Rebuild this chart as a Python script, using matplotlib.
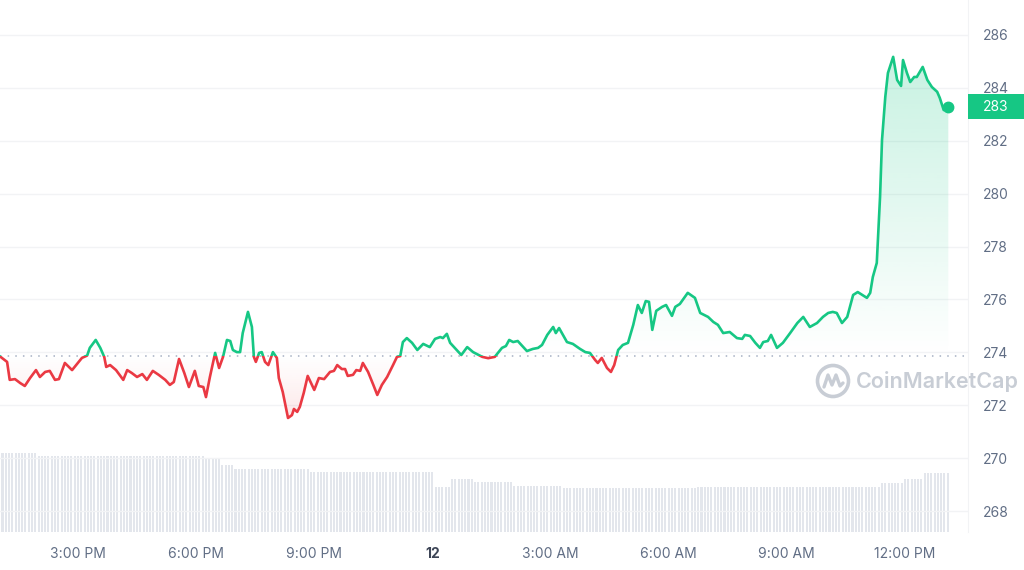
import numpy as np
import matplotlib
matplotlib.use("Agg")
import matplotlib.pyplot as plt
import matplotlib.colors as mcolors
from matplotlib.path import Path
from matplotlib.patches import Rectangle, Ellipse
from matplotlib.lines import Line2D
import matplotlib.transforms as mtransforms

plt.rcParams['font.family'] = ['Inter', 'DejaVu Sans']

# price samples: minutes after 13:00 on the 11th, price in USD
minutes = [
    1, 12, 16, 24, 32, 39, 47, 56, 62, 70, 77, 85, 91, 100, 111, 126, 134, 138, 147, 154,
    160, 163, 169, 178, 189, 195, 202, 210, 218, 225, 234, 243, 253, 260, 266, 274, 282, 289, 298, 304,
    311, 315, 321, 329, 335, 341, 347, 352, 356, 362, 367, 371, 379, 385, 388, 391, 396, 400, 405, 410,
    417, 423, 426, 432, 440, 446, 449, 454, 458, 464, 470, 480, 487, 495, 499, 504, 510, 515, 522, 527,
    531, 539, 544, 550, 554, 562, 570, 576, 583, 591, 600, 606, 611, 615, 621, 629, 637, 646, 656, 664,
    672, 676, 682, 687, 697, 704, 713, 722, 736, 745, 755, 766, 772, 777, 783, 790, 804, 813, 821, 827,
    835, 844, 848, 853, 865, 874, 885, 893, 900, 908, 912, 918, 926, 932, 937, 943, 950, 958, 966, 973,
    979, 985, 990, 995, 1001, 1010, 1016, 1025, 1030, 1037, 1049, 1060, 1068, 1080, 1088, 1095, 1103, 1113, 1124, 1132,
    1136, 1144, 1152, 1159, 1164, 1171, 1176, 1185, 1194, 1205, 1216, 1225, 1235, 1246, 1255, 1263, 1270, 1276, 1284, 1292,
    1301, 1308, 1322, 1327, 1331, 1337, 1342, 1345, 1350, 1354, 1362, 1368, 1374, 1377, 1383, 1388, 1394, 1398, 1407, 1414,
    1421, 1429, 1433, 1439, 1446,
]
prices = [
    273.85, 273.64, 272.96, 272.99, 272.84, 272.73, 273.03, 273.33, 273.07, 273.26, 273.30, 272.96, 272.99, 273.60, 273.33, 273.79, 273.88, 274.17, 274.47, 274.17,
    273.83, 273.45, 273.52, 273.33, 272.96, 273.33, 273.22, 273.07, 273.18, 272.96, 273.30, 273.15, 272.96, 272.77, 272.88, 273.75, 273.22, 272.69, 273.30, 272.73,
    272.69, 272.31, 273.07, 273.98, 273.41, 273.83, 274.47, 274.43, 274.09, 274.01, 274.01, 274.73, 275.53, 274.96, 273.83, 273.64, 273.98, 274.01, 273.64, 273.52,
    274.01, 273.79, 273.03, 272.50, 271.52, 271.63, 271.86, 271.75, 271.94, 272.47, 273.11, 272.58, 273.03, 272.99, 273.11, 273.26, 273.30, 273.52, 273.37, 273.37,
    273.11, 273.15, 273.33, 273.30, 273.60, 273.26, 272.77, 272.39, 272.77, 273.07, 273.52, 273.83, 273.86, 274.39, 274.54, 274.36, 274.09, 274.32, 274.20, 274.51,
    274.58, 274.54, 274.70, 274.36, 274.09, 273.90, 274.20, 274.01, 273.83, 273.78, 273.83, 274.17, 274.24, 274.47, 274.39, 274.43, 274.05, 274.13, 274.17, 274.28,
    274.66, 274.96, 274.73, 274.92, 274.39, 274.32, 274.13, 274.01, 273.98, 273.71, 273.60, 273.79, 273.41, 273.26, 273.52, 274.09, 274.28, 274.36, 275.04, 275.79,
    275.49, 275.94, 275.91, 274.85, 275.57, 275.72, 275.79, 275.38, 275.72, 275.83, 276.25, 276.06, 275.49, 275.34, 275.15, 275.04, 274.73, 274.77, 274.54, 274.51,
    274.66, 274.62, 274.36, 274.17, 274.39, 274.43, 274.66, 274.17, 274.36, 274.73, 275.11, 275.34, 274.96, 275.11, 275.34, 275.49, 275.53, 275.49, 275.11, 275.34,
    276.17, 276.28, 276.06, 276.25, 276.85, 277.38, 279.88, 282.03, 283.66, 284.56, 285.17, 284.30, 284.07, 285.05, 284.56, 284.22, 284.41, 284.41, 284.79, 284.30,
    284.03, 283.85, 283.62, 283.16, 283.28,
]

# 5-minute volume bars (millions USD), one row per hour starting 13:05
volume = [
    198, 198, 198, 198, 198, 198, 198, 198, 198, 198, 198, 190,
    190, 190, 190, 190, 190, 190, 190, 190, 190, 190, 190, 190,
    190, 190, 190, 190, 190, 190, 190, 190, 190, 190, 190, 190,
    190, 190, 190, 190, 190, 190, 190, 190, 190, 190, 190, 190,
    190, 190, 190, 190, 190, 190, 190, 190, 190, 190, 190, 190,
    190, 190, 185, 185, 185, 185, 185, 168, 168, 168, 168, 158,
    158, 158, 158, 158, 158, 158, 158, 158, 158, 158, 158, 158,
    158, 158, 158, 158, 158, 158, 158, 158, 158, 158, 150, 150,
    150, 150, 150, 150, 150, 150, 150, 150, 150, 150, 150, 150,
    150, 150, 150, 150, 150, 150, 150, 150, 150, 150, 150, 150,
    150, 150, 150, 150, 150, 150, 150, 150, 150, 150, 150, 150,
    112, 112, 112, 112, 112, 133, 133, 133, 133, 133, 133, 133,
    125, 125, 125, 125, 125, 125, 125, 125, 125, 125, 125, 125,
    115, 115, 115, 115, 115, 115, 115, 115, 115, 115, 115, 115,
    115, 115, 115, 110, 110, 110, 110, 110, 110, 110, 110, 110,
    110, 110, 110, 110, 110, 110, 110, 110, 110, 110, 110, 110,
    110, 110, 110, 110, 110, 110, 110, 110, 110, 110, 110, 110,
    110, 110, 110, 110, 110, 110, 110, 110, 112, 112, 112, 112,
    112, 112, 112, 112, 112, 112, 112, 112, 112, 112, 112, 112,
    112, 112, 112, 112, 112, 112, 112, 112, 112, 112, 112, 112,
    112, 112, 112, 112, 112, 112, 112, 112, 112, 112, 112, 112,
    112, 112, 112, 112, 112, 112, 112, 112, 112, 112, 112, 112,
    112, 112, 112, 112, 122, 122, 122, 122, 122, 122, 122, 133,
    133, 133, 133, 133, 133, 148, 148, 148, 148, 148, 148, 148,
    148,
]

tick_hours = [15, 18, 21, 24, 27, 30, 33, 36]
tick_labels = ['3:00 PM', '6:00 PM', '9:00 PM', '12', '3:00 AM', '6:00 AM', '9:00 AM', '12:00 PM']
price_ticks = [268, 270, 272, 274, 276, 278, 280, 282, 284, 286]

GREEN = '#16c784'
RED = '#ea3943'
GRAY = '#616e85'

hours = 13 + np.array(minutes) / 60.0
prices = np.array(prices, dtype=float)
vol_hours = 13 + np.arange(5, 5 * len(volume) + 1, 5) / 60.0
base = prices[0]

W, H = 1024, 570
fig = plt.figure(figsize=(W / 100, H / 100), dpi=100)
rect = [0, 38 / H, 968 / W, 532 / H]

# volume underneath
axv = fig.add_axes(rect)
axv.bar(vol_hours, volume, width=0.052, color='#e3e6ec', linewidth=0)
axv.set_ylim(0, 1330)
axv.axis('off')

ax = fig.add_axes(rect, sharex=axv)
ax.patch.set_alpha(0)
x_lo, x_hi = 13.02, 37.6
y_lo, y_hi = 267.21, 287.32


def gradient_fill(ax, x, y, where, color, y_far, a_far):
    poly = ax.fill_between(x, y, base, where=where, interpolate=True,
                           facecolor='none', edgecolor='none')
    path = Path.make_compound_path(*poly.get_paths())
    img = np.zeros((256, 1, 4))
    img[..., :3] = mcolors.to_rgb(color)
    if y_far > base:
        img[:, 0, 3] = np.linspace(a_far, 0.0, 256)
        ext = [x.min(), x.max(), base, y_far]
    else:
        img[:, 0, 3] = np.linspace(0.0, a_far, 256)
        ext = [x.min(), x.max(), y_far, base]
    im = ax.imshow(img, aspect='auto', extent=ext, origin='upper', zorder=1,
                   interpolation='bilinear')
    im.set_clip_path(path, transform=ax.transData)


gradient_fill(ax, hours, prices, prices >= base, GREEN, 285.3, 0.24)
gradient_fill(ax, hours, prices, prices <= base, RED, 271.5, 0.12)

# line coloured by side of the opening price
up, = ax.plot(hours, prices, color=GREEN, lw=1.9, zorder=3, solid_joinstyle='round')
up.set_clip_path(Rectangle((x_lo - 1, base), 30, 30, transform=ax.transData))
dn, = ax.plot(hours, prices, color=RED, lw=1.9, zorder=3, solid_joinstyle='round')
dn.set_clip_path(Rectangle((x_lo - 1, base - 30), 30, 30, transform=ax.transData))

ax.axhline(base, color='#a6b0c3', lw=1.1, ls=(0, (1, 4)), zorder=2)
ax.plot(hours[-1], prices[-1], 'o', ms=7.5, color=GREEN, zorder=4)

ax.set_xlim(x_lo, x_hi)
ax.set_ylim(y_lo, y_hi)
ax.set_yticks(price_ticks)
ax.yaxis.tick_right()
ax.set_xticks(tick_hours)
ax.set_xticklabels(tick_labels)
ax.tick_params(axis='y', length=0, pad=11, labelcolor=GRAY, labelsize=10)
ax.tick_params(axis='x', length=0, pad=11, labelcolor=GRAY, labelsize=10)
for lbl in ax.get_xticklabels():
    if lbl.get_text() == '12':
        lbl.set_fontweight('bold')
        lbl.set_color('#3d4556')
ax.grid(axis='y', color='#f2f3f5', lw=1)
ax.set_axisbelow(True)
for s in ['top', 'left', 'bottom']:
    ax.spines[s].set_visible(False)
ax.spines['right'].set_color('#f2f3f5')

# current price tag
blend = mtransforms.blended_transform_factory(ax.transAxes, ax.transData)
ax.add_patch(Rectangle((1.0, prices[-1] - 0.47), 0.06, 0.94, transform=blend,
                       facecolor=GREEN, edgecolor='none', clip_on=False, zorder=6))
ax.text(1.029, prices[-1], f'{prices[-1]:.0f}', transform=blend, ha='center', va='center',
        color='white', fontsize=10, zorder=7, clip_on=False)

# watermark
wm = '#c8cdd5'
cx, cy = 833, 381
fig.add_artist(Ellipse((cx / W, 1 - cy / H), 31 / W, 31 / H, transform=fig.transFigure,
                       facecolor='none', edgecolor=wm, lw=2.6))
wave = [(-9, 6), (-5, -6), (-1, 4), (3, -6), (7, 5), (10, 2)]
fig.add_artist(Line2D([(cx + dx) / W for dx, dy in wave], [1 - (cy + dy) / H for dx, dy in wave],
                      transform=fig.transFigure, color=wm, lw=2.4, solid_joinstyle='round',
                      solid_capstyle='round'))
fig.text(856 / W, 1 - 382 / H, 'CoinMarketCap', ha='left', va='center', fontsize=15.5,
         fontweight='semibold', color=wm)

fig.savefig('out.png', dpi=100, facecolor='white')
